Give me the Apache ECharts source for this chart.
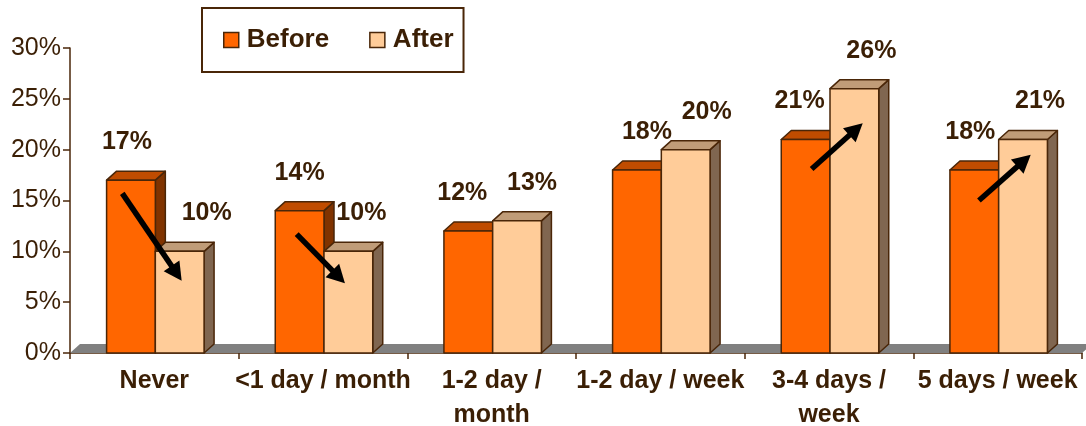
<!DOCTYPE html>
<html><head><meta charset="utf-8">
<script src="https://cdn.jsdelivr.net/npm/echarts@6/dist/echarts.min.js"></script>
<style>html,body{margin:0;padding:0;background:#fff}#c{width:1086px;height:426px}</style>
</head><body><div id="c"></div>
<script>
const categories = ['Never', '<1 day / month', '1-2 day /\nmonth', '1-2 day / week', '3-4 days /\nweek', '5 days / week'];
const seriesNames = ['Before', 'After'];
const before = [0.17, 0.14, 0.12, 0.18, 0.21, 0.18];
const after = [0.10, 0.10, 0.13, 0.20, 0.26, 0.21];
// arrows: [fromX, fromValue, toX, toValue] with x measured in category units from the left axis
const arrows = [
  [0.31, 0.157, 0.662, 0.071],
  [1.344, 0.117, 1.630, 0.0685],
  [4.397, 0.181, 4.700, 0.226],
  [5.389, 0.150, 5.696, 0.195]
];

const TXT = '#3b1f05';
const EDGE = '#4a2608';
const FONT = '"Liberation Sans", Arial, sans-serif';
const labelDx = [[-4, 0, -6, 10, -6, -4], [27, 13, 15, 21, 17, 17]];
const palette = [
  {front: '#FF6600', top: '#C04C00', side: '#803300'},
  {front: '#FFCC99', top: '#C09C78', side: '#806650'}
];
const DX = 10, DY = -9;

function barRender(sIdx) {
  return function (params, api) {
    const i = api.value(0), v = api.value(1);
    const base = api.coord([i, 0]);
    const top = api.coord([i, v]);
    const band = api.size([1, 0])[0];
    const w = band * 0.289;
    const x0 = base[0] + 1 + (sIdx === 0 ? -w : 0);
    const x1 = x0 + w;
    const yb = base[1], yt = top[1];
    const c = palette[sIdx];
    const st = (fill) => ({fill: fill, stroke: EDGE, lineWidth: 1.5, lineJoin: 'round'});
    return {
      type: 'group',
      children: [
        {type: 'polygon', shape: {points: [[x1, yb], [x1 + DX, yb + DY], [x1 + DX, yt + DY], [x1, yt]]}, style: st(c.side)},
        {type: 'polygon', shape: {points: [[x0, yt], [x0 + DX, yt + DY], [x1 + DX, yt + DY], [x1, yt]]}, style: st(c.top)},
        {type: 'rect', shape: {x: x0, y: yt, width: w, height: yb - yt}, style: st(c.front)},
        {type: 'text', x: (x0 + x1) / 2 + labelDx[sIdx][i], y: yt - 38, z2: 50,
          style: {text: Math.round(v * 100) + '%', font: 'bold 25px ' + FONT, fill: TXT, align: 'center', verticalAlign: 'middle'}}
      ]
    };
  };
}

function floorRender(params, api) {
  const p0 = api.coord([0, 0]);
  const p1 = api.coord([6, 0]);
  return {
    type: 'polygon',
    shape: {points: [[p0[0], p0[1]], [p1[0], p1[1]], [p1[0] + DX, p1[1] + DY], [p0[0] + DX, p0[1] + DY]]},
    style: {fill: '#808080'}
  };
}

function arrowRender(params, api) {
  const p = api.coord([api.value(0), api.value(1)]);
  const q = api.coord([api.value(2), api.value(3)]);
  const ddx = q[0] - p[0], ddy = q[1] - p[1];
  const L = Math.hypot(ddx, ddy);
  const ux = ddx / L, uy = ddy / L;
  const h = 18, hw = 9.5;
  const bx = q[0] - ux * h, by = q[1] - uy * h;
  return {
    type: 'group',
    children: [
      {type: 'line', shape: {x1: p[0], y1: p[1], x2: bx + ux * 3, y2: by + uy * 3}, style: {stroke: '#000', lineWidth: 5.5}},
      {type: 'polygon', shape: {points: [[q[0], q[1]], [bx - uy * hw, by + ux * hw], [bx + uy * hw, by - ux * hw]]}, style: {fill: '#000'}}
    ]
  };
}

const chart = echarts.init(document.getElementById('c'), null, {renderer: 'canvas'});
chart.setOption({
  animation: false,
  backgroundColor: '#fff',
  grid: {left: 70, right: 4, top: 48, bottom: 73, containLabel: false, outerBoundsMode: 'none'},
  legend: {
    data: seriesNames,
    left: 202, top: 8,
    padding: [19, 10, 19, 21],
    itemGap: 40, itemWidth: 15, itemHeight: 15,
    icon: 'rect',
    borderColor: EDGE, borderWidth: 2,
    itemStyle: {borderColor: EDGE, borderWidth: 1.5},
    textStyle: {color: TXT, fontSize: 26, fontWeight: 'bold', fontFamily: FONT, padding: [0, 0, 0, 3]},
    selectedMode: false
  },
  xAxis: [
    {
      type: 'category', data: categories,
      axisLine: {lineStyle: {color: EDGE, width: 1.5}},
      axisTick: {show: true, length: 6, lineStyle: {color: EDGE, width: 1.5}},
      axisLabel: {interval: 0, color: TXT, fontSize: 25, fontWeight: 'bold', fontFamily: FONT, lineHeight: 34, margin: 11}
    },
    {type: 'value', min: 0, max: 6, show: false}
  ],
  yAxis: {
    type: 'value', min: 0, max: 0.3, interval: 0.05,
    axisLine: {show: true, lineStyle: {color: EDGE, width: 1.5}},
    axisTick: {show: true, length: 7, lineStyle: {color: EDGE, width: 1.5}},
    splitLine: {show: false},
    axisLabel: {color: TXT, fontSize: 25, fontFamily: FONT, margin: 9, formatter: v => Math.round(v * 100) + '%'}
  },
  series: [
    {type: 'custom', name: 'floor', xAxisIndex: 1, z: 1, data: [[0]], renderItem: floorRender, silent: true},
    {type: 'custom', name: seriesNames[0], z: 2, data: before.map((v, i) => [i, v]), renderItem: barRender(0),
      itemStyle: {color: palette[0].front, borderColor: EDGE}},
    {type: 'custom', name: seriesNames[1], z: 3, data: after.map((v, i) => [i, v]), renderItem: barRender(1),
      itemStyle: {color: palette[1].front, borderColor: EDGE}},
    {type: 'custom', name: 'arrows', xAxisIndex: 1, z: 4, data: arrows, renderItem: arrowRender, silent: true}
  ]
});
</script>
</body></html>
